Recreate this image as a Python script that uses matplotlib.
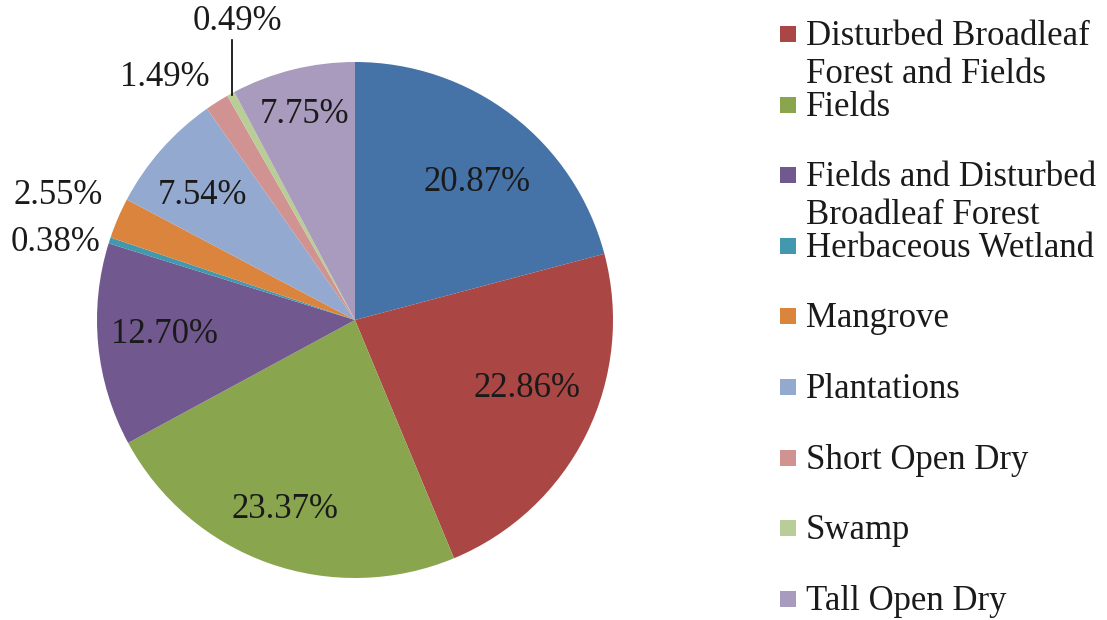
import matplotlib
matplotlib.use("Agg")
import matplotlib.pyplot as plt
from matplotlib.patches import Rectangle

plt.rcParams['font.family'] = ['Liberation Serif', 'DejaVu Serif']

categories = ["Broadleaf Forest", "Disturbed Broadleaf\nForest and Fields", "Fields",
              "Fields and Disturbed\nBroadleaf Forest", "Herbaceous Wetland", "Mangrove",
              "Plantations", "Short Open Dry", "Swamp", "Tall Open Dry"]
values = [20.87, 22.86, 23.37, 12.70, 0.38, 2.55, 7.54, 1.49, 0.49, 7.75]
colors = ["#4572A7", "#AA4643", "#89A54E", "#71588F", "#4198AF", "#DB843D",
          "#93A9CF", "#D19392", "#B9CD96", "#A99BBD"]
legend_items = categories[1:]
legend_colors = colors[1:]

W, H = 1107, 620
fig = plt.figure(figsize=(W / 100, H / 100), dpi=100)
cx, cy, r = 355, 320, 258
ax = fig.add_axes([(cx - r) / W, (H - cy - r) / H, 2 * r / W, 2 * r / H])
wedges, _ = ax.pie(values, colors=colors, startangle=90, counterclock=False,
                   radius=1, wedgeprops=dict(linewidth=0))
ax.set_xlim(-1, 1)
ax.set_ylim(-1, 1)
ax.set_aspect('equal')
ax.axis('off')

fs = 25

def px(x, y):
    return ((x - cx) / r, (cy - y) / r)

# inside labels (pixel positions of label centres)
inside = {0: (477, 183), 1: (527, 389), 2: (285, 510), 3: (165, 335), 6: (203, 196), 9: (305, 115)}
for i, (x, y) in inside.items():
    ax.text(*px(x, y), f"{values[i]:.2f}%", ha='center', va='center', fontsize=fs, color='#1a1a1a')

# outside labels
outside = {4: (101, 243, 'right'), 5: (103, 196, 'right'), 7: (210, 78, 'right'), 8: (237, 22, 'center')}
for i, (x, y, ha) in outside.items():
    ax.text(*px(x, y), f"{values[i]:.2f}%", ha=ha, va='center', fontsize=fs, color='#1a1a1a',
            clip_on=False)
# leader line for the 0.49% slice
x0, y0 = px(232, 95)
x1, y1 = px(232, 40)
ax.plot([x0, x1], [y0, y1], color='black', lw=1.2, clip_on=False)

# legend
for k, (lab, col) in enumerate(zip(legend_items, legend_colors)):
    y = 34 + 70.6 * k
    fig.patches.append(Rectangle((780 / W, 1 - (y + 8) / H), 16 / W, 16 / H,
                                 transform=fig.transFigure, facecolor=col, edgecolor='none'))
    fig.text(806 / W, 1 - (y - 14) / H, lab, ha='left', va='top', fontsize=fs,
             linespacing=1.2, color='#1a1a1a')

fig.savefig("out.png", dpi=100)
